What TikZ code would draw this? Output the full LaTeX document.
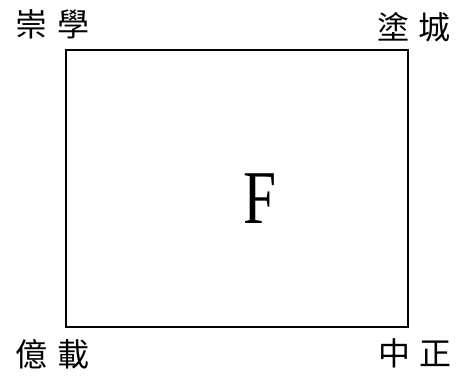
\documentclass[tikz,border=0pt]{standalone}
\usepackage{fontspec}
\setmainfont{Liberation Serif}
\newfontfamily\cjk{Noto Sans CJK TC}
\usetikzlibrary{positioning}

\begin{document}
\begin{tikzpicture}[x=1pt,y=-1pt,
  corner/.style={font=\cjk\fontsize{32}{34}\selectfont, inner sep=0pt, anchor=center},
  zone/.style={draw=black, line width=1.6pt, minimum width=342pt, minimum height=277pt, inner sep=0pt}]

  % Page frame, same size as the reference
  \useasboundingbox (0,0) rectangle (462,376);

  % The block outline
  \node[zone] (block) at (237,188.5) {};

  % Corner names
  \node[corner] (nw) at (53,24)  {崇\hspace{10pt}學};
  \node[corner] (ne) at (414,27) {塗\hspace{10pt}城};
  \node[corner] (sw) at (53,354) {億\hspace{10pt}載};
  \node[corner] (se) at (415,353) {中\hspace{10pt}正};

  % The block letter
  \node[font=\fontsize{76}{78}\selectfont, inner sep=0pt] (letter) at (260,199) {\scalebox{0.78}[1]{F}};

\end{tikzpicture}
\end{document}
